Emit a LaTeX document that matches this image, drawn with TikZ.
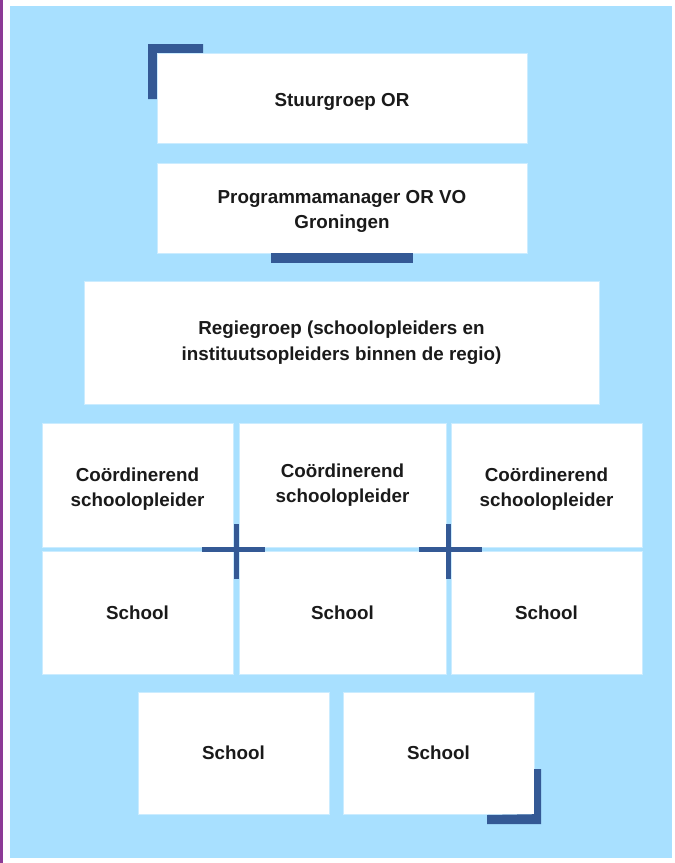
\documentclass[tikz,border=0pt]{standalone}
\usepackage{fontspec}
\setmainfont{Liberation Sans}
\usetikzlibrary{calc}
\definecolor{skyb}{RGB}{168,224,255}
\definecolor{darkb}{RGB}{52,89,149}
\definecolor{purp}{RGB}{140,58,150}
\definecolor{txt}{RGB}{26,26,26}
\begin{document}
\begin{tikzpicture}[x=1pt,y=-1pt,
  label/.style={inner sep=0pt,align=center,
    font=\fontsize{18.8}{25.5}\selectfont\bfseries,text=txt},
  box/.style={label,fill=white,draw=skyb!60,line width=0.4pt},
  accent/.style={fill=darkb},
  crossline/.style={draw=darkb,line width=5pt}]
\useasboundingbox (0,0) rectangle (675,863);
\fill[white] (0,0) rectangle (675,863);
\fill[purp] (0,0) rectangle (2.5,863);
\fill[skyb] (10,6) rectangle (672,858);
% top-left accent bracket
\fill[accent] (148,44) -- (203,44) -- (203,53) -- (157,53) -- (157,99) -- (148,99) -- cycle;
\node[box,minimum width=370,minimum height=90] (stuur) at (342,98) {};
\node[label] at ([yshift=-3.5]stuur.center) {Stuurgroep OR};
\node[box,minimum width=370,minimum height=90] (prog) at (342,208) {};
\node[label] at ([yshift=-3.5]prog.center) {Programmamanager OR VO\\Groningen};
\fill[accent] ([shift={(-71,0)}]prog.south) rectangle ([shift={(71,10)}]prog.south);
\node[box,minimum width=515,minimum height=123] (regie) at (341.5,342.5) {Regiegroep (schoolopleiders en\\instituutsopleiders binnen de regio)};
\node[box,minimum width=191,minimum height=124] (c1) at (137.5,485) {};
\node[box,minimum width=207,minimum height=124] (c2) at (342.5,485) {};
\node[box,minimum width=191,minimum height=124] (c3) at (546.5,485) {};
\node[label] at ([yshift=-4]c1.center) {Coördinerend\\schoolopleider};
\node[label] at (c2.center) {Coördinerend\\schoolopleider};
\node[label] at ([yshift=-4]c3.center) {Coördinerend\\schoolopleider};
\node[box,minimum width=191,minimum height=123] (s1) at (137.5,612.5) {School};
\node[box,minimum width=207,minimum height=123] (s2) at (342.5,612.5) {School};
\node[box,minimum width=191,minimum height=123] (s3) at (546.5,612.5) {School};
\node[box,minimum width=191,minimum height=122] (s4) at (233.5,753) {School};
\node[box,minimum width=191,minimum height=122] (s5) at (438.5,753) {School};
% crosses at the junctions
\coordinate (j1) at ($(c1.south east)!0.5!(s2.north west)$);
\coordinate (j2) at ($(c2.south east)!0.5!(s3.north west)$);
\draw[crossline] ([xshift=-34]j1) -- ([xshift=29]j1);
\draw[crossline] ([yshift=-30]j1) -- ([yshift=25]j1);
\draw[crossline] ([xshift=-30]j2) -- ([xshift=33]j2);
\draw[crossline] ([yshift=-30]j2) -- ([yshift=25]j2);
% bottom-right accent bracket
\fill[accent] (487,815) -- (s5.south east) -- ++(0,-45) -- ++(7,0) -- (541,824) -- (487,824) -- cycle;
\end{tikzpicture}
\end{document}
